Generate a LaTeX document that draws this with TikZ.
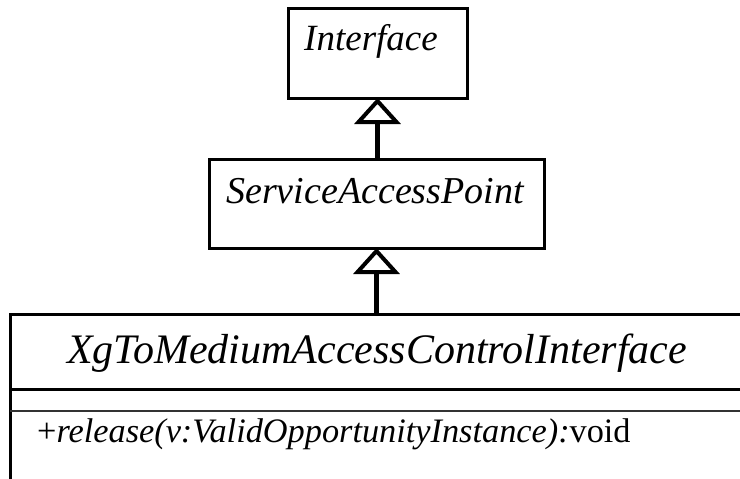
\documentclass[tikz,border=0pt]{standalone}
\usepackage{fontspec}
\setmainfont{Liberation Serif}
\usetikzlibrary{arrows.meta}
\tikzset{
  classbox/.style={draw, line width=3pt, rectangle, anchor=north west, inner sep=0pt, outer sep=0pt},
  inherit/.style={line width=5pt, -{Triangle[open, length=26pt, width=46pt, line width=4pt]}},
  cname/.style={anchor=base, inner sep=0pt, font=\fontsize{37}{40}\selectfont\itshape},
}
\begin{document}
\begin{tikzpicture}[x=1pt,y=-1pt]
\useasboundingbox (0,0) rectangle (740,479);
\clip (0,0) rectangle (740,479);
% boxes
\node[classbox, minimum width=179pt, minimum height=90pt] (iface) at (288,8) {};
\node[classbox, minimum width=335pt, minimum height=89pt] (sap) at (209,159) {};
\node[classbox, minimum width=800pt, minimum height=220pt] (xg) at (10,314) {};
% compartment lines
\coordinate (d1l) at (10,389);
\coordinate (d1r) at (760,389);
\coordinate (d2l) at (10,411);
\coordinate (d2r) at (760,411);
\draw[line width=3pt] (d1l) -- (d1r);
\draw[line width=2.2pt, black!80] (d2l) -- (d2r);
% texts
\node[cname] (ifacet) at (371,50) {Interface};
\node[cname, font=\fontsize{38}{40}\selectfont\itshape] (sapt) at (375,203) {ServiceAccessPoint};
\node[cname, font=\fontsize{42}{46}\selectfont\itshape] (xgt) at (377,363) {XgToMediumAccessControlInterface};
\node[anchor=base west, inner sep=0pt, font=\fontsize{34.3}{38}\selectfont] (op) at (37,442) {+\textit{release(v:ValidOpportunityInstance):}void};
% generalizations
\draw[inherit] (sap.north -| iface.south) -- (iface.south);
\draw[inherit] (xg.north -| sap.south) -- (sap.south);
\end{tikzpicture}
\end{document}
